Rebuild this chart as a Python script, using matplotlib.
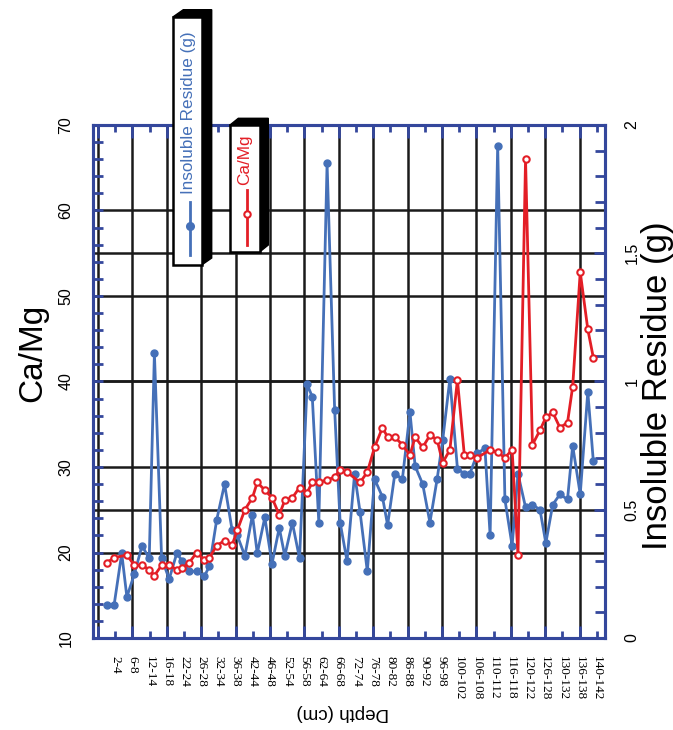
import matplotlib
matplotlib.use("Agg")
import matplotlib.pyplot as plt
import matplotlib.patches as patches
import matplotlib.transforms as mtransforms
from matplotlib.lines import Line2D
import numpy as np

# depth position of each sample on the x axis (cm)
depth = [2.5, 4.7, 6.9, 8.4, 10.6, 12.8, 14.9, 16.4, 18.5, 20.7,
         22.9, 24.5, 26.5, 28.7, 30.9, 32.4, 34.5, 36.8, 39.0, 40.5,
         42.7, 44.9, 46.3, 48.5, 50.6, 52.7, 54.3, 56.5, 58.6, 60.8,
         62.3, 64.2, 66.6, 68.8, 70.4, 72.4, 74.6, 76.2, 78.3, 80.4,
         82.7, 84.2, 86.3, 88.5, 90.7, 92.2, 94.4, 96.5, 98.6, 100.2,
         102.3, 104.5, 106.5, 108.1, 110.3, 112.5, 114.0, 116.2, 118.3, 120.4,
         122.1, 124.3, 126.3, 128.5, 130.2, 132.2, 134.3, 136.5, 138.0, 140.2,
         142.4, 144.0]

# insoluble residue (g), right axis
residue = [0.13, 0.13, 0.33, 0.16, 0.25, 0.36, 0.31, 1.11, 0.31, 0.23,
           0.33, 0.30, 0.26, 0.26, 0.24, 0.28, 0.46, 0.60, 0.42, 0.40,
           0.32, 0.48, 0.33, 0.47, 0.29, 0.43, 0.32, 0.45, 0.31, 0.99,
           0.94, 0.45, 1.85, 0.89, 0.45, 0.30, 0.64, 0.49, 0.26, 0.62,
           0.55, 0.44, 0.64, 0.62, 0.88, 0.67, 0.60, 0.45, 0.62, 0.77,
           1.01, 0.66, 0.64, 0.64, 0.72, 0.74, 0.40, 1.92, 0.54, 0.36,
           0.64, 0.51, 0.52, 0.50, 0.37, 0.52, 0.56, 0.54, 0.75, 0.56,
           0.96, 0.69]

# Ca/Mg ratio, left axis (None = no measurement)
ca_mg = [18.8, 19.4, None, 19.7, 18.5, 18.5, 18.0, 17.3, 18.5, 18.5,
         18.0, 18.2, 18.8, 20.0, 19.1, 19.4, 20.8, 21.4, 20.9, 22.6,
         25.0, 26.4, 28.2, 27.3, 26.4, 24.4, 26.1, 26.4, 27.6, 27.0,
         28.2, 28.2, 28.5, 28.8, 29.7, 29.4, None, 28.2, 29.4, 32.3,
         34.6, 33.5, 33.5, 32.6, 31.4, 33.5, 32.3, 33.7, 33.2, 30.5,
         32.0, 40.2, 31.4, 31.4, 31.1, None, 32.0, 31.7, 31.1, 32.0,
         19.7, 66.0, 32.6, 34.3, 35.8, 36.4, 34.6, 35.2, 39.4, 52.8,
         46.1, 42.8]

tick_pos = list(range(5, 150, 5))
tick_labels = ['2-4', '6-8', '12-14', '16-18', '22-24', '26-28', '32-34', '36-38',
               '42-44', '46-48', '52-54', '56-58', '62-64', '66-68', '72-74',
               '76-78', '80-82', '86-88', '90-92', '96-98', '100-102', '106-108',
               '110-112', '116-118', '120-122', '126-128', '130-132', '136-138',
               '140-142']

BLUE = '#4570b8'
RED = '#e31e26'
AXBLUE = '#34479c'
W, H = 673, 730

plt.rcParams['font.family'] = ['Liberation Sans', 'DejaVu Sans']

fig = plt.figure(figsize=(W / 100, H / 100), dpi=100)
ax = fig.add_axes([93 / W, 1 - 638 / H, (605 - 93) / W, (638 - 125) / H])
ax2 = ax.twinx()
ax.set_zorder(ax2.get_zorder() + 1)
ax.patch.set_visible(False)

# grid lines, all kept on the lower axes so the data sits on top
for xv in range(0, 150, 10):
    ax2.axvline(xv, color='#1a1a1a', lw=1.8, zorder=0)
for yv in [0.5, 1.0, 1.5]:
    ax2.axhline(yv, color='#1a1a1a', lw=1.8, zorder=0)
left_tr = mtransforms.blended_transform_factory(ax2.transAxes, ax.transData)
for yv in [20, 30, 40, 50, 60]:
    ax2.add_line(Line2D([0, 1], [yv, yv], transform=left_tr, color='#1a1a1a', lw=1.8, zorder=0))

# insoluble residue
ax2.plot(depth, residue, color=BLUE, lw=2.0, marker='o', ms=5, mfc=BLUE, mec=BLUE, zorder=3)

# Ca/Mg (skip missing samples, line stays connected)
cx = [d for d, v in zip(depth, ca_mg) if v is not None]
cy = [v for v in ca_mg if v is not None]
ax.plot(cx, cy, color=RED, lw=2.0, marker='o', ms=4.6, mfc='white', mec=RED, mew=1.5, zorder=3)

ax.set_xlim(-1.45, 147.4)
ax.set_ylim(10, 70)
ax2.set_ylim(0, 2)

ax.set_xticks(list(range(0, 150, 10)))
ax.set_xticklabels([''] + tick_labels[1::2])
ax.set_xticks(tick_pos[0::2], minor=True)
ax.set_xticklabels(tick_labels[0::2], minor=True)
for lab in ax.get_xticklabels(which='both'):
    lab.set_family('Liberation Serif')
    lab.set_rotation(270)
ax.tick_params(axis='x', which='both', direction='in', top=True, bottom=True,
               colors=AXBLUE, labelcolor='black', labelsize=9.5, width=2, pad=13)
ax.tick_params(axis='x', which='major', length=9)
ax.tick_params(axis='x', which='minor', length=5)

ax.set_yticks(range(10, 71, 10))
ax.set_yticks(range(10, 71, 2), minor=True)
ax.tick_params(axis='y', which='both', direction='in', colors=AXBLUE, labelcolor='black',
               labelsize=11.5, width=2, length=7, labelrotation=90, pad=14)
for lab in ax.get_yticklabels():
    lab.set_va('center')

ax2.set_yticks([0, 0.5, 1, 1.5, 2])
ax2.set_yticklabels(['0', '0.5', '1', '1.5', '2'])
ax2.set_yticks(np.arange(0, 2.01, 0.1), minor=True)
ax2.tick_params(axis='y', which='both', direction='in', colors=AXBLUE, labelcolor='black',
                labelsize=11.5, width=2, length=7, labelrotation=90, pad=14)
ax2.tick_params(axis='y', which='major', length=8)
for lab in ax2.get_yticklabels():
    lab.set_va('center')

for a in (ax, ax2):
    for s in a.spines.values():
        s.set_color(AXBLUE)
        s.set_linewidth(2.2)

fig.text(33 / W, 1 - 353 / H, 'Ca/Mg', rotation=90, fontsize=24, ha='center', va='center')
fig.text(658 / W, 1 - 386 / H, 'Insoluble Residue (g)', rotation=90, fontsize=25,
         ha='center', va='center')
fig.text(343 / W, 1 - 712 / H, 'Depth (cm)', rotation=180, fontsize=13.5,
         ha='center', va='center')


# legend boxes: white box with a black extruded shadow, all in pixel coords
def fp(x, y):
    return (x / W, 1 - y / H)


def legend_box(x0, x1, y0, y1, dx, dy, label, color, tx, ty, lx, ly0, ly1, my, filled):
    shadow = patches.Polygon([fp(x0, y0), fp(x0 + dx, y0 - dy), fp(x1 + dx, y0 - dy),
                              fp(x1 + dx, y1 - dy), fp(x1, y1)], closed=True,
                             transform=fig.transFigure, facecolor='black', edgecolor='black', zorder=5)
    fig.add_artist(shadow)
    box = patches.Rectangle(fp(x0, y1), (x1 - x0) / W, (y1 - y0) / H, transform=fig.transFigure,
                            facecolor='white', edgecolor='black', lw=1.8, zorder=6)
    fig.add_artist(box)
    fig.text(tx / W, 1 - ty / H, label, rotation=90, fontsize=12.3, color=color,
             ha='center', va='center', zorder=7)
    fig.add_artist(Line2D([lx / W, lx / W], [1 - ly0 / H, 1 - ly1 / H], transform=fig.transFigure,
                          color=color, lw=2.0, zorder=7))
    fig.add_artist(Line2D([lx / W], [1 - my / H], transform=fig.transFigure, marker='o',
                          ms=5 if filled else 4.6, mfc=color if filled else 'white', mec=color,
                          mew=1.5, color=color, zorder=8))


legend_box(173.3, 201.7, 16.7, 265, 10, 7, 'Insoluble Residue (g)', BLUE,
           188, 113, 190, 201.7, 255, 226, True)
legend_box(230, 260, 125, 251.7, 8.3, 6.7, 'Ca/Mg', RED,
           245, 160, 246.7, 190, 245, 214, False)

fig.savefig('out.png', dpi=100)
